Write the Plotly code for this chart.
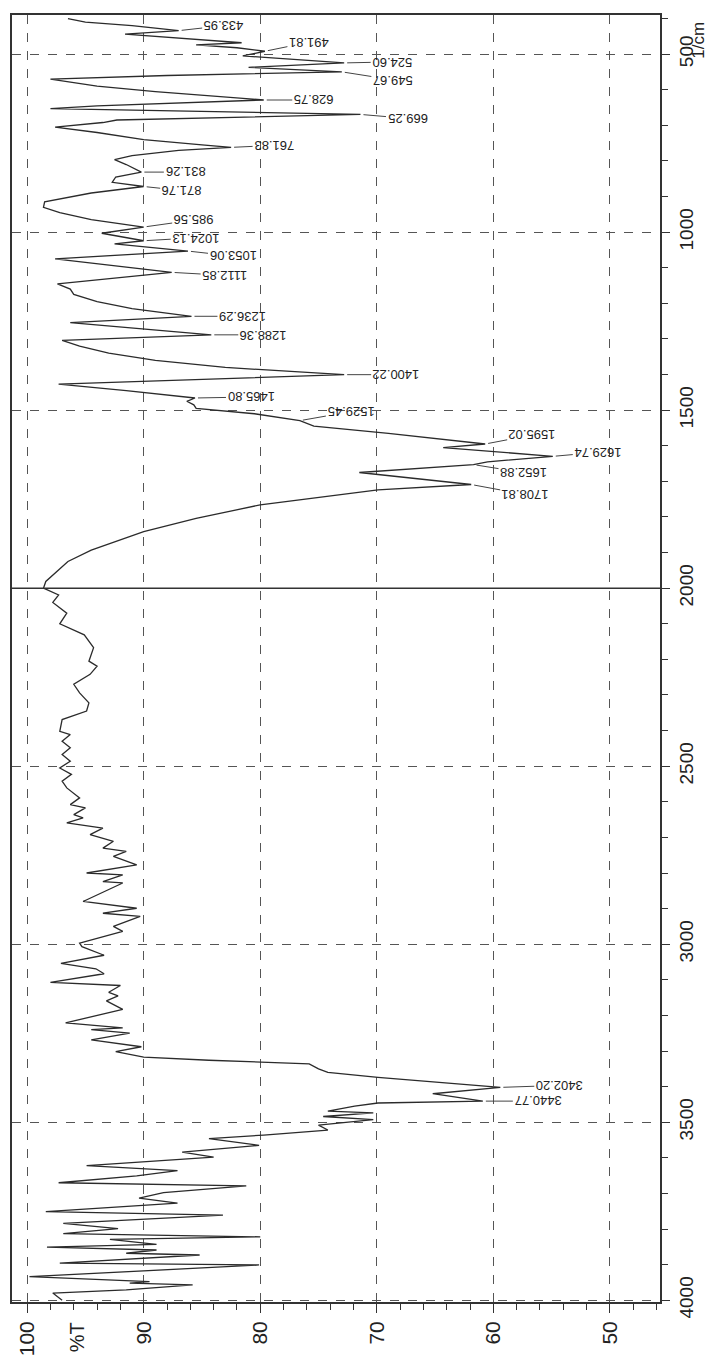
import plotly.graph_objects as go

# ---------------- data ----------------
wavenumber = [
    400, 410, 420, 433.95, 444, 452, 461, 468, 474, 482,
    491.81, 505, 524.60, 537, 549.67, 560, 570, 590, 605, 628.75,
    645, 653, 669.25, 685, 692, 705, 720, 740, 755, 761.83,
    770, 785, 796, 810, 831.26, 845, 860, 871.76, 890, 915,
    930, 945, 965, 985.56, 1003, 1024.13, 1033, 1053.06, 1075, 1112.85,
    1145, 1160, 1175, 1195, 1215, 1236.29, 1254, 1288.36, 1304, 1320,
    1340, 1360, 1380, 1400.22, 1427, 1445, 1465.80, 1475, 1485, 1495,
    1510, 1529.45, 1545, 1565, 1595.02, 1605, 1629.74, 1645, 1652.88, 1675,
    1708.81, 1724, 1766, 1804, 1841, 1893, 1925, 1981, 2000, 2019,
    2040, 2070, 2100, 2131, 2167, 2205, 2219, 2242, 2270, 2294,
    2322, 2345, 2369, 2402, 2411, 2430, 2448, 2467, 2486, 2505,
    2523, 2542, 2561, 2589, 2608, 2617, 2636, 2645, 2659, 2674,
    2692, 2711, 2730, 2739, 2753, 2777, 2800, 2805, 2824, 2828,
    2880, 2899, 2913, 2922, 2950, 2964, 2997, 3007, 3031, 3054,
    3069, 3083, 3107, 3116, 3135, 3145, 3159, 3183, 3221, 3235,
    3240, 3250, 3269, 3288, 3302, 3317, 3326, 3336, 3350, 3360,
    3374, 3402.20, 3420, 3440.77, 3446, 3455, 3469, 3474, 3484, 3493,
    3508, 3522, 3536, 3546, 3565, 3584, 3598, 3622, 3636, 3651,
    3670, 3679, 3698, 3713, 3727, 3751, 3761, 3784, 3799, 3813,
    3822, 3829, 3843, 3851, 3859, 3868, 3873, 3882, 3896, 3901,
    3934, 3948, 3952, 3957, 3971, 3980, 4000,
]
transmittance = [
    96.5, 95.0, 91.0, 87.0, 91.6, 88.5, 85.0, 81.6, 85.5, 82.0,
    79.6, 81.5, 72.8, 81.0, 73.0, 88.0, 98.0, 94.0, 89.0, 79.7,
    94.0, 98.0, 71.4, 92.3, 93.5, 97.6, 94.0, 90.0, 85.0, 82.5,
    87.0, 91.0, 92.5, 91.5, 90.2, 92.4, 92.7, 90.0, 94.5, 98.5,
    98.6, 97.2, 94.5, 90.0, 93.6, 90.0, 92.5, 86.2, 97.6, 87.6,
    97.4, 96.3, 96.0, 94.0, 91.0, 85.9, 96.3, 84.2, 97.0, 95.5,
    93.0, 89.0, 83.0, 72.8, 97.3, 91.5, 85.6, 86.3, 85.7, 85.5,
    80.5, 76.6, 75.4, 69.0, 60.7, 64.3, 54.9, 60.5, 61.7, 71.5,
    61.9, 69.9, 80.0, 85.5, 90.0, 94.5, 96.5, 98.4, 98.6, 97.3,
    97.8, 96.6, 97.2, 95.1, 94.3, 94.7, 94.0, 94.6, 96.0, 95.5,
    94.7, 94.9, 97.0, 97.2, 96.3, 97.0, 96.3, 97.0, 96.3, 97.2,
    96.2, 97.0, 96.6, 95.5, 96.3, 95.0, 96.0, 95.2, 96.6, 93.5,
    94.6, 92.6, 93.5, 91.5, 92.6, 90.6, 94.9, 91.8, 93.5, 91.8,
    95.2, 90.6, 93.5, 90.3, 92.6, 91.8, 95.5, 95.3, 93.4, 97.1,
    94.1, 93.4, 98.0, 92.0, 93.0, 92.2, 93.2, 91.8, 96.7, 91.8,
    94.5, 91.2, 94.5, 90.2, 92.4, 90.0, 84.4, 75.8, 75.0, 74.2,
    69.9, 59.4, 65.2, 60.9, 69.9, 71.9, 74.2, 70.3, 74.6, 70.3,
    75.0, 74.2, 79.7, 84.4, 80.1, 86.7, 84.0, 94.9, 87.1, 90.6,
    97.3, 81.2, 88.3, 90.4, 87.1, 98.4, 83.2, 96.9, 92.2, 96.9,
    80.0, 92.9, 88.9, 98.3, 88.9, 91.5, 85.2, 89.8, 97.2, 80.1,
    99.8, 89.5, 91.2, 85.8, 91.5, 97.8, 97.0,
]
assert len(wavenumber) == len(transmittance)

peak_wavenumber = [
    433.95, 491.81, 524.60, 549.67, 628.75, 669.25, 761.83, 831.26,
    871.76, 985.56, 1024.13, 1053.06, 1112.85, 1236.29, 1288.36,
    1400.22, 1465.80, 1529.45, 1595.02, 1629.74, 1652.88, 1708.81,
    3402.20, 3440.77,
]
peak_transmittance = [
    87.0, 79.6, 72.8, 73.0, 79.7, 71.4, 82.5, 90.2,
    90.0, 90.0, 90.0, 86.2, 87.6, 85.9, 84.2,
    72.8, 85.6, 76.6, 60.7, 54.9, 61.7, 61.9,
    59.4, 60.9,
]

pct_ticks = [100, 90, 80, 70, 60, 50]
wn_ticks = [500, 1000, 1500, 2000, 2500, 3000, 3500, 4000]

# label offsets (pixels) of each peak label from its peak tip
label_dx = [45, 44, 48, 51, 50, 47, 43, 44, 38, 50, 52, 45, 53, 51, 52,
            52, 56, 51, 47, 45, 50, 54, 59, 55]
label_dy = [-5, -9, -1, 8, 0, 4, -2, 0, 4, -7, -3, 5, 3, 0, 0,
            0, -1, -9, -9, -4, 8, 10, -2, 0]

FONT = "Liberation Sans, Arial, sans-serif"
INK = "#2b2b2b"

fig = go.Figure()
fig.add_trace(go.Scatter(
    x=transmittance, y=wavenumber, mode="lines",
    line=dict(color=INK, width=1.3), hoverinfo="skip", showlegend=False,
))

for w, t, dx, dy in zip(peak_wavenumber, peak_transmittance, label_dx, label_dy):
    fig.add_annotation(
        x=t, y=w, xref="x", yref="y", text=f"{w:.2f}", textangle=180,
        showarrow=True, arrowhead=0, arrowwidth=1, arrowcolor="#444",
        ax=dx, ay=dy, standoff=3,
        font=dict(family=FONT, size=13, color="#222"),
    )

# solid line at 2000 1/cm (scale change line)
fig.add_shape(type="line", xref="paper", x0=0, x1=1, yref="y", y0=2000, y1=2000,
              line=dict(color="#333", width=1.4))

fig.add_annotation(x=95.7, xref="x", y=0, yref="paper", yanchor="top", yshift=-18,
                   text="%T", textangle=-90, showarrow=False,
                   font=dict(family=FONT, size=20, color="#222"))
fig.add_annotation(x=1, xref="paper", xanchor="left", xshift=27, y=500, yref="y",
                   yshift=14, text="1/cm", textangle=-90, showarrow=False,
                   font=dict(family=FONT, size=17, color="#222"))

fig.update_layout(
    width=716, height=1366,
    margin=dict(l=10, r=56, t=15, b=64),
    paper_bgcolor="white", plot_bgcolor="white",
    showlegend=False,
    font=dict(family=FONT, color="#222"),
    xaxis=dict(
        range=[101.3, 45.7], tickmode="array", tickvals=pct_ticks,
        ticktext=[str(v) for v in pct_ticks], tickangle=-90,
        ticks="outside", ticklen=9, tickcolor="#333", tickwidth=1.2,
        showline=True, linecolor="#333", linewidth=1.6, mirror=True,
        showgrid=True, gridcolor="#555", griddash="dash", gridwidth=1,
        zeroline=False, tickfont=dict(size=21, family=FONT),
        minor=dict(dtick=2, tick0=0, ticks="outside", ticklen=6,
                   tickcolor="#333", showgrid=False),
    ),
    yaxis=dict(
        range=[4005, 390], side="right", tickmode="array", tickvals=wn_ticks,
        ticktext=[str(v) for v in wn_ticks], tickangle=-90,
        ticks="outside", ticklen=8, tickcolor="#333", tickwidth=1.2,
        showline=True, linecolor="#333", linewidth=1.6, mirror=True,
        showgrid=True, gridcolor="#555", griddash="dash", gridwidth=1,
        zeroline=False, tickfont=dict(size=19, family=FONT),
        minor=dict(dtick=100, tick0=0, ticks="outside", ticklen=6,
                   tickcolor="#333", showgrid=False),
    ),
)

fig.write_html("out.html", config={"displayModeBar": False},
               post_script="document.body.style.margin='0';")
